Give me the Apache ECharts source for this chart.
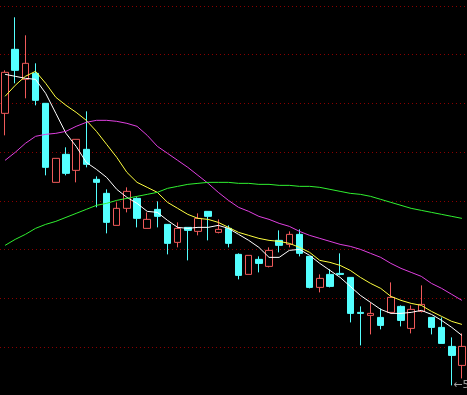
<!DOCTYPE html>
<html>
<head>
<meta charset="utf-8">
<script src="https://cdn.jsdelivr.net/npm/echarts@6/dist/echarts.min.js"></script>
<style>
html,body{margin:0;padding:0;background:#000;}
#chart{width:467px;height:395px;}
</style>
</head>
<body>
<div id="chart"></div>
<script>
// categories (trading days)
const categories = Array.from({length: 46}, (_, i) => String(i + 1));
// [open, close, low, high]
const ohlc = [
  [8.18, 8.59, 7.96, 8.61],
  [8.82, 8.61, 8.48, 9.14],
  [8.52, 8.68, 8.33, 8.96],
  [8.58, 8.31, 8.26, 8.68],
  [8.28, 7.64, 7.56, 8.28],
  [7.49, 7.73, 7.49, 7.73],
  [7.77, 7.58, 7.56, 7.84],
  [7.61, 7.92, 7.49, 7.92],
  [7.82, 7.67, 7.64, 8.20],
  [7.52, 7.49, 7.24, 7.55],
  [7.38, 7.09, 6.98, 7.42],
  [7.06, 7.23, 7.06, 7.29],
  [7.23, 7.40, 7.19, 7.44],
  [7.33, 7.13, 7.04, 7.34],
  [7.03, 7.12, 7.03, 7.19],
  [7.22, 7.15, 7.04, 7.30],
  [7.07, 6.88, 6.77, 7.07],
  [6.89, 7.03, 6.84, 7.09],
  [7.04, 7.01, 6.71, 7.04],
  [7.00, 7.13, 6.96, 7.18],
  [7.20, 7.15, 6.91, 7.20],
  [6.99, 7.02, 6.98, 7.12],
  [7.03, 6.88, 6.84, 7.06],
  [6.77, 6.56, 6.52, 6.78],
  [6.57, 6.76, 6.57, 6.76],
  [6.72, 6.68, 6.59, 6.75],
  [6.65, 6.81, 6.64, 6.84],
  [6.91, 6.86, 6.79, 7.01],
  [6.87, 6.97, 6.84, 7.00],
  [6.97, 6.78, 6.75, 7.02],
  [6.75, 6.44, 6.43, 6.75],
  [6.44, 6.53, 6.39, 6.57],
  [6.57, 6.45, 6.44, 6.62],
  [6.58, 6.57, 6.56, 6.78],
  [6.54, 6.18, 6.09, 6.54],
  [6.19, 6.18, 5.86, 6.25],
  [6.16, 6.18, 5.97, 6.29],
  [6.14, 6.06, 6.02, 6.23],
  [6.19, 6.34, 6.18, 6.49],
  [6.25, 6.11, 6.05, 6.26],
  [6.03, 6.22, 5.98, 6.26],
  [6.20, 6.27, 6.19, 6.46],
  [6.14, 6.04, 5.97, 6.14],
  [6.04, 5.88, 5.88, 6.14],
  [5.85, 5.76, 5.46, 5.94],
  [5.66, 5.85, 5.53, 5.98]
];
const ma5 = [8.57,8.55,8.53,8.52,8.38,8.18,7.98,7.85,7.69,7.62,7.54,7.42,7.34,7.28,7.20,7.19,7.11,7.04,7.03,7.04,7.04,7.06,7.03,6.97,6.91,6.84,6.74,6.74,6.81,6.82,6.76,6.68,6.61,6.54,6.45,6.36,6.29,6.22,6.18,6.18,6.19,6.21,6.17,6.11,6.04,5.96];
const ma10 = [8.35,8.46,8.55,8.60,8.48,8.34,8.26,8.19,8.11,8.00,7.87,7.74,7.59,7.49,7.44,7.39,7.29,7.23,7.17,7.13,7.12,7.09,7.04,6.99,6.96,6.93,6.91,6.90,6.88,6.84,6.79,6.71,6.69,6.66,6.61,6.54,6.48,6.43,6.35,6.31,6.28,6.26,6.20,6.15,6.10,6.07];
const ma20 = [7.71,7.79,7.88,7.95,7.97,7.98,8.00,8.05,8.09,8.11,8.11,8.10,8.08,8.05,7.96,7.85,7.78,7.71,7.64,7.56,7.48,7.39,7.31,7.24,7.20,7.15,7.12,7.08,7.05,7.00,6.96,6.93,6.90,6.87,6.85,6.82,6.78,6.74,6.68,6.63,6.59,6.55,6.48,6.43,6.37,6.31];
const ma60 = [6.86,6.92,6.97,7.03,7.07,7.10,7.14,7.18,7.22,7.26,7.28,7.31,7.33,7.35,7.37,7.39,7.43,7.45,7.47,7.48,7.49,7.49,7.49,7.48,7.48,7.47,7.47,7.46,7.46,7.45,7.45,7.44,7.42,7.40,7.38,7.37,7.35,7.32,7.29,7.26,7.23,7.21,7.19,7.17,7.15,7.13];
const lowMark = {index: 44, value: 5.46, text: '←5.46'};

const chart = echarts.init(document.getElementById('chart'), null, {renderer: 'canvas'});
const lineSeries = (data, color) => ({
  type: 'line', data: data, symbol: 'none', smooth: false, clip: false, z: 3,
  lineStyle: {color: color, width: 1}, animation: false
});
chart.setOption({
  backgroundColor: '#000000',
  animation: false,
  grid: {left: -2.6, right: 0, top: 6, bottom: 48, containLabel: false},
  xAxis: {
    type: 'category', data: categories, boundaryGap: true,
    axisLine: {show: false}, axisTick: {show: false}, axisLabel: {show: false}, splitLine: {show: false}
  },
  yAxis: {
    type: 'value', min: 5.844, max: 9.253, interval: 0.487,
    axisLine: {show: false}, axisTick: {show: false}, axisLabel: {show: false},
    splitLine: {show: true, lineStyle: {color: '#8a0000', type: [1, 3], width: 1}}
  },
  series: [
    {
      type: 'candlestick', data: ohlc, barWidth: 7, clip: false, z: 2,
      itemStyle: {
        color: '#000000', color0: '#54ffff',
        borderColor: '#f05a5a', borderColor0: '#54ffff', borderWidth: 1
      }
    },
    lineSeries(ma5, '#ffffff'),
    lineSeries(ma10, '#ffff40'),
    lineSeries(ma20, '#e040e0'),
    lineSeries(ma60, '#30f030'),
    {
      type: 'scatter', data: [[lowMark.index, lowMark.value]], clip: false, z: 5,
      symbol: 'rect', symbolSize: [1, 1], itemStyle: {color: 'rgba(0,0,0,0)'},
      label: {show: true, position: 'right', distance: 1, formatter: lowMark.text, color: '#c8c8c8', fontSize: 11, fontFamily: 'DejaVu Sans'},
      silent: true
    }
  ]
});
</script>
</body>
</html>
